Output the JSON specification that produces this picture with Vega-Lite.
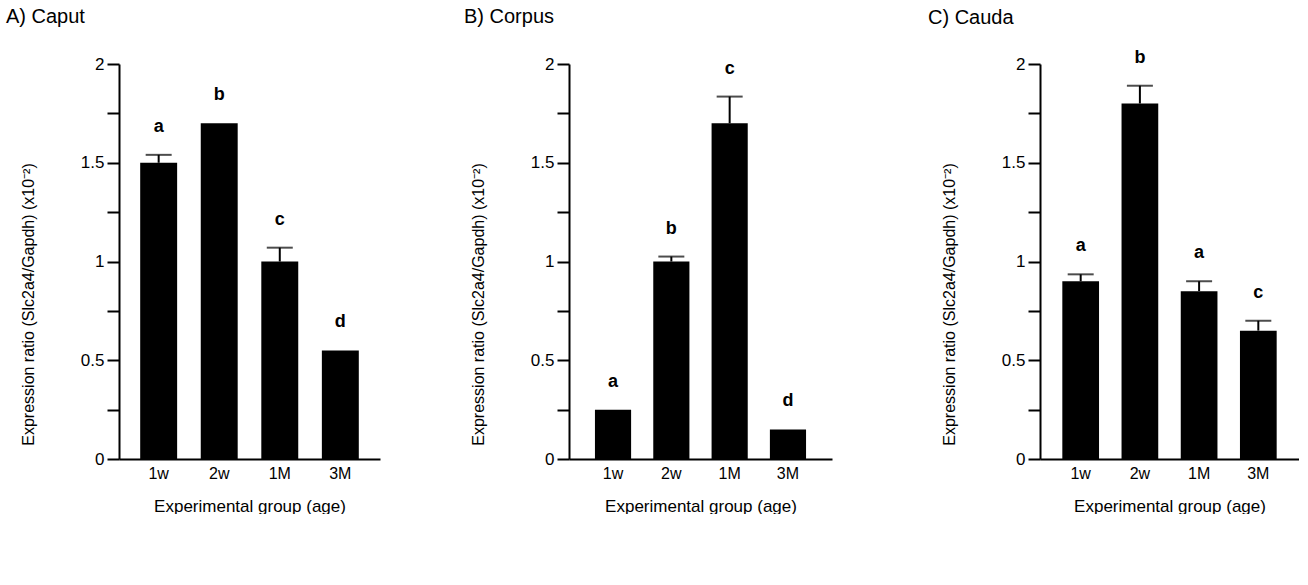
{
  "$schema": "https://vega.github.io/schema/vega-lite/v6.json",
  "padding": {"left": 6, "top": 7, "right": 0, "bottom": 0},
  "background": "white",
  "datasets": {
    "expr": [
      {"panel": "A", "group": "1w", "value": 1.5, "upper": 1.54, "letter": "a"},
      {"panel": "A", "group": "2w", "value": 1.7, "upper": 1.7, "letter": "b"},
      {"panel": "A", "group": "1M", "value": 1.0, "upper": 1.07, "letter": "c"},
      {"panel": "A", "group": "3M", "value": 0.55, "upper": 0.55, "letter": "d"},
      {"panel": "B", "group": "1w", "value": 0.25, "upper": 0.25, "letter": "a"},
      {"panel": "B", "group": "2w", "value": 1.0, "upper": 1.025, "letter": "b"},
      {"panel": "B", "group": "1M", "value": 1.7, "upper": 1.835, "letter": "c"},
      {"panel": "B", "group": "3M", "value": 0.15, "upper": 0.15, "letter": "d"},
      {"panel": "C", "group": "1w", "value": 0.9, "upper": 0.935, "letter": "a"},
      {"panel": "C", "group": "2w", "value": 1.8, "upper": 1.89, "letter": "b"},
      {"panel": "C", "group": "1M", "value": 0.85, "upper": 0.9, "letter": "a"},
      {"panel": "C", "group": "3M", "value": 0.65, "upper": 0.7, "letter": "c"}
    ]
  },
  "config": {
    "font": "Liberation Sans",
    "view": {"stroke": null},
    "axis": {
      "grid": false,
      "domainColor": "black",
      "domainWidth": 2,
      "tickColor": "black",
      "tickWidth": 2,
      "labelColor": "black",
      "titleColor": "black",
      "titleFontWeight": "normal",
      "labelFontSize": 16,
      "labelFont": "Liberation Sans",
      "titleFont": "Liberation Sans"
    },
    "title": {"font": "Liberation Sans", "fontWeight": "normal", "fontSize": 20, "color": "black"}
  },
  "spacing": 84,
  "hconcat": [
    {
      "width": 261,
      "height": 395,
      "title": {"text": "A) Caput", "anchor": "start", "frame": "group", "dx": -113, "offset": 28},
      "data": {"name": "expr"},
      "transform": [{"filter": "datum.panel === 'A'"}],
      "encoding": {
        "x": {
          "field": "group", "type": "nominal", "sort": ["1w", "2w", "1M", "3M"],
          "scale": {"paddingInner": 0.39, "paddingOuter": 0.35},
          "axis": {"title": "Experimental group (age)", "labelAngle": 0, "ticks": false, "labelPadding": 6, "titleFontSize": 17, "titlePadding": 17}
        }
      },
      "layer": [
        {
          "mark": {"type": "bar", "color": "black"},
          "encoding": {
            "y": {
              "field": "value", "type": "quantitative", "scale": {"domain": [0, 2]},
              "axis": {
                "title": "Expression ratio (Slc2a4/Gapdh) (x10⁻²)",
                "values": [0, 0.25, 0.5, 0.75, 1, 1.25, 1.5, 1.75, 2],
                "labelExpr": "datum.value % 0.5 === 0 ? format(datum.value, '~g') : ''",
                "domainColor": "black", "domainWidth": 2, "tickColor": "black", "tickWidth": 2,
                "tickSize": 12, "labelPadding": 3, "labelFontSize": 17, "titleFontSize": 16, "titleX": -83, "titleY": 240
              }
            }
          }
        },
        {
          "transform": [{"filter": "datum.upper > datum.value"}],
          "mark": {"type": "rule", "color": "black", "strokeWidth": 2},
          "encoding": {"y": {"field": "value", "type": "quantitative"}, "y2": {"field": "upper"}}
        },
        {
          "transform": [{"filter": "datum.upper > datum.value"}],
          "mark": {"type": "tick", "color": "black", "thickness": 2, "size": 26},
          "encoding": {"y": {"field": "upper", "type": "quantitative"}}
        },
        {
          "mark": {"type": "text", "fontWeight": "bold", "fontSize": 18, "dy": -28, "color": "black"},
          "encoding": {"y": {"field": "upper", "type": "quantitative"}, "text": {"field": "letter"}}
        }
      ]
    },
    {
      "spacing": 96,
      "hconcat": [
        {
          "width": 263,
          "height": 395,
          "title": {"text": "B) Corpus", "anchor": "start", "frame": "group", "dx": -105, "offset": 28},
          "data": {"name": "expr"},
          "transform": [{"filter": "datum.panel === 'B'"}],
          "encoding": {
            "x": {
              "field": "group", "type": "nominal", "sort": ["1w", "2w", "1M", "3M"],
              "scale": {"paddingInner": 0.38, "paddingOuter": 0.445},
              "axis": {"title": "Experimental group (age)", "labelAngle": 0, "ticks": false, "labelPadding": 6, "titleFontSize": 17, "titlePadding": 17}
            }
          },
          "layer": [
            {
              "mark": {"type": "bar", "color": "black"},
              "encoding": {
                "y": {
                  "field": "value", "type": "quantitative", "scale": {"domain": [0, 2]},
                  "axis": {
                    "title": "Expression ratio (Slc2a4/Gapdh) (x10⁻²)",
                    "values": [0, 0.25, 0.5, 0.75, 1, 1.25, 1.5, 1.75, 2],
                    "labelExpr": "datum.value % 0.5 === 0 ? format(datum.value, '~g') : ''",
                    "domainColor": "black", "domainWidth": 2, "tickColor": "black", "tickWidth": 2,
                    "tickSize": 12, "labelPadding": 3, "labelFontSize": 17, "titleFontSize": 16, "titleX": -83, "titleY": 240
                  }
                }
              }
            },
            {
              "transform": [{"filter": "datum.upper > datum.value"}],
              "mark": {"type": "rule", "color": "black", "strokeWidth": 2},
              "encoding": {"y": {"field": "value", "type": "quantitative"}, "y2": {"field": "upper"}}
            },
            {
              "transform": [{"filter": "datum.upper > datum.value"}],
              "mark": {"type": "tick", "color": "black", "thickness": 2, "size": 26},
              "encoding": {"y": {"field": "upper", "type": "quantitative"}}
            },
            {
              "mark": {"type": "text", "fontWeight": "bold", "fontSize": 18, "dy": -28, "color": "black"},
              "encoding": {"y": {"field": "upper", "type": "quantitative"}, "text": {"field": "letter"}}
            }
          ]
        },
        {
          "width": 259,
          "height": 395,
          "title": {"text": "C) Cauda", "anchor": "start", "frame": "group", "dx": -112, "offset": 21},
          "data": {"name": "expr"},
          "transform": [{"filter": "datum.panel === 'C'"}],
          "encoding": {
            "x": {
              "field": "group", "type": "nominal", "sort": ["1w", "2w", "1M", "3M"],
              "scale": {"paddingInner": 0.38, "paddingOuter": 0.377},
              "axis": {"title": "Experimental group (age)", "labelAngle": 0, "ticks": false, "labelPadding": 6, "titleFontSize": 17, "titlePadding": 17}
            }
          },
          "layer": [
            {
              "mark": {"type": "bar", "color": "black"},
              "encoding": {
                "y": {
                  "field": "value", "type": "quantitative", "scale": {"domain": [0, 2]},
                  "axis": {
                    "title": "Expression ratio (Slc2a4/Gapdh) (x10⁻²)",
                    "values": [0, 0.25, 0.5, 0.75, 1, 1.25, 1.5, 1.75, 2],
                    "labelExpr": "datum.value % 0.5 === 0 ? format(datum.value, '~g') : ''",
                    "domainColor": "black", "domainWidth": 2, "tickColor": "black", "tickWidth": 2,
                    "tickSize": 12, "labelPadding": 3, "labelFontSize": 17, "titleFontSize": 16, "titleX": -83, "titleY": 240
                  }
                }
              }
            },
            {
              "transform": [{"filter": "datum.upper > datum.value"}],
              "mark": {"type": "rule", "color": "black", "strokeWidth": 2},
              "encoding": {"y": {"field": "value", "type": "quantitative"}, "y2": {"field": "upper"}}
            },
            {
              "transform": [{"filter": "datum.upper > datum.value"}],
              "mark": {"type": "tick", "color": "black", "thickness": 2, "size": 26},
              "encoding": {"y": {"field": "upper", "type": "quantitative"}}
            },
            {
              "mark": {"type": "text", "fontWeight": "bold", "fontSize": 18, "dy": -28, "color": "black"},
              "encoding": {"y": {"field": "upper", "type": "quantitative"}, "text": {"field": "letter"}}
            }
          ]
        }
      ]
    }
  ]
}
